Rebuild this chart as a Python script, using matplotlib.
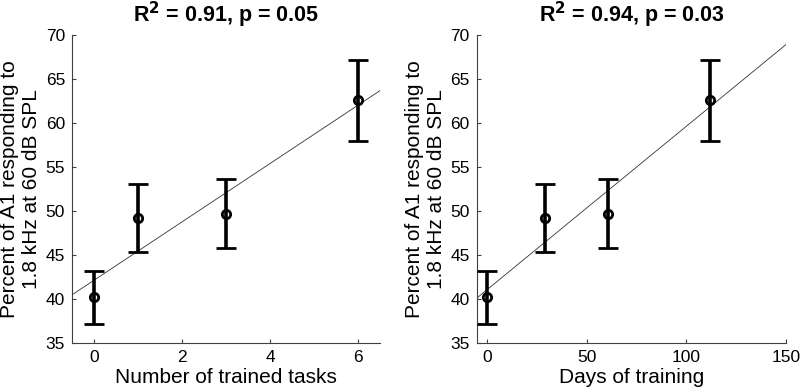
import numpy as np
import matplotlib.pyplot as plt

plt.rcParams['font.family'] = ['Liberation Sans', 'DejaVu Sans']

# data
tasks = [0, 1, 3, 6]
days = [0, 29, 61, 112]
pct = [40.2, 49.2, 49.7, 62.6]
err = [3.0, 3.9, 3.9, 4.6]
titles = ['R$^\\mathbf{2}$ = 0.91, p = 0.05', 'R$^\\mathbf{2}$ = 0.94, p = 0.03']
xlabels = ['Number of trained tasks', 'Days of training']
ylab = 'Percent of A1 responding to\n1.8 kHz at 60 dB SPL'

fig = plt.figure(figsize=(8, 3.9), dpi=100)
ax1 = fig.add_axes([0.09, 0.1205, 0.385, 0.7895])
ax2 = fig.add_axes([0.596, 0.1205, 0.3865, 0.7895])

setups = [(ax1, tasks, (-0.5, 6.5), [0, 2, 4, 6]),
          (ax2, days, (-5, 150), [0, 50, 100, 150])]

for i, (ax, x, xl, xt) in enumerate(setups):
    # regression line over the full x range
    k, b = np.polyfit(x, pct, 1)
    xx = np.array(xl)
    ax.plot(xx, k * xx + b, color='#333333', lw=0.6, zorder=1)
    ax.errorbar(x, pct, yerr=err, fmt='o', color='black', mfc='none',
                mec='black', ms=6, mew=2, elinewidth=2.6, capsize=7,
                capthick=2.6, zorder=3)
    ax.set_xlim(xl)
    ax.set_ylim(35, 70)
    ax.set_xticks(xt)
    ax.set_yticks(range(35, 71, 5))
    ax.spines['top'].set_visible(False)
    ax.spines['right'].set_visible(False)
    for s in ['left', 'bottom']:
        ax.spines[s].set_color('#404040')
        ax.spines[s].set_linewidth(0.8)
    ax.tick_params(direction='in', length=3, width=0.8, color='#404040',
                   labelsize=12.5, pad=5)
    ax.set_xlabel(xlabels[i], fontsize=15, labelpad=2)
    ax.set_ylabel(ylab, fontsize=15, labelpad=3)
    ax.set_title(titles[i], fontsize=15.5, fontweight='bold', pad=9)

fig.savefig('out.png', dpi=100)
